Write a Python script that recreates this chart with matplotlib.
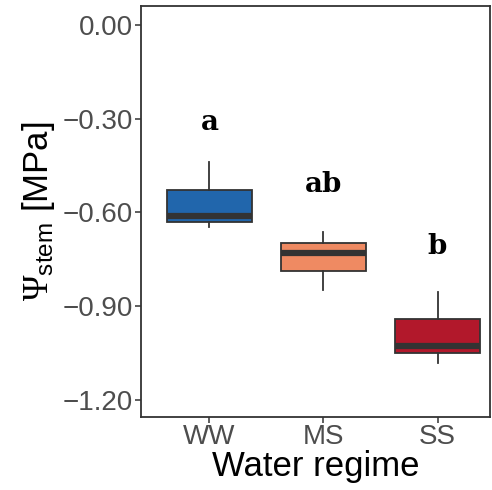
import matplotlib
matplotlib.use("Agg")
import matplotlib.pyplot as plt

categories = ["WW", "MS", "SS"]
whislo = [-0.648, -0.849, -1.082]
q1 = [-0.629, -0.788, -1.050]
med = [-0.610, -0.731, -1.028]
q3 = [-0.527, -0.699, -0.941]
whishi = [-0.440, -0.661, -0.855]
letters = ["a", "ab", "b"]
letter_y = [-0.313, -0.510, -0.708]
colors = ["#2166AC", "#EF8A62", "#B2182B"]
yticks = [0.0, -0.3, -0.6, -0.9, -1.2]
ytick_labels = ["0.00", "\u22120.30", "\u22120.60", "\u22120.90", "\u22121.20"]

plt.rcParams['font.family'] = ['Liberation Sans', 'DejaVu Sans']
plt.rcParams['mathtext.fontset'] = 'custom'
plt.rcParams['mathtext.rm'] = 'Liberation Serif'
plt.rcParams['mathtext.sf'] = 'Liberation Sans'
plt.rcParams['mathtext.it'] = 'Liberation Serif:italic'

fig = plt.figure(figsize=(4.92, 4.90), dpi=100)
ax = fig.add_axes([141/492, 1-417/490, (490-141)/492, (417-6)/490])

stats = []
for i, c in enumerate(categories):
    stats.append(dict(label=c, whislo=whislo[i], q1=q1[i], med=med[i],
                      q3=q3[i], whishi=whishi[i], fliers=[]))
pos = list(range(1, len(categories) + 1))
bp = ax.bxp(stats, positions=pos, widths=0.75, patch_artist=True,
            showcaps=False, showfliers=False,
            boxprops=dict(edgecolor="#333333", linewidth=1.3),
            whiskerprops=dict(color="#333333", linewidth=1.3),
            medianprops=dict(color="#333333", linewidth=4.5, solid_capstyle='butt'))
for patch, col in zip(bp['boxes'], colors):
    patch.set_facecolor(col)

for p, l, y in zip(pos, letters, letter_y):
    ax.text(p, y, l, ha='center', va='center', fontsize=20, fontweight='bold',
            family='DejaVu Serif', color='black')

ax.set_xlim(0.4, 3.46)
ax.set_ylim(-1.254, 0.06)
ax.set_yticks(yticks)
ax.set_yticklabels(ytick_labels)
ax.set_xticks(pos)
ax.set_xticklabels(categories)
ax.tick_params(axis='both', colors='#333333', length=4, width=1.1,
               labelsize=20, labelcolor='#4D4D4D')
ax.tick_params(axis='x', pad=1)
ax.tick_params(axis='y', pad=2)
for s in ax.spines.values():
    s.set_color('#333333')
    s.set_linewidth(1.3)

ax.set_xlabel("Water regime", fontsize=25, color='black', labelpad=0)
ax.set_ylabel(r"$\Psi_{\mathsf{stem}}$ [MPa]", fontsize=25, color='black', labelpad=4)

fig.savefig("out.png", dpi=100)
